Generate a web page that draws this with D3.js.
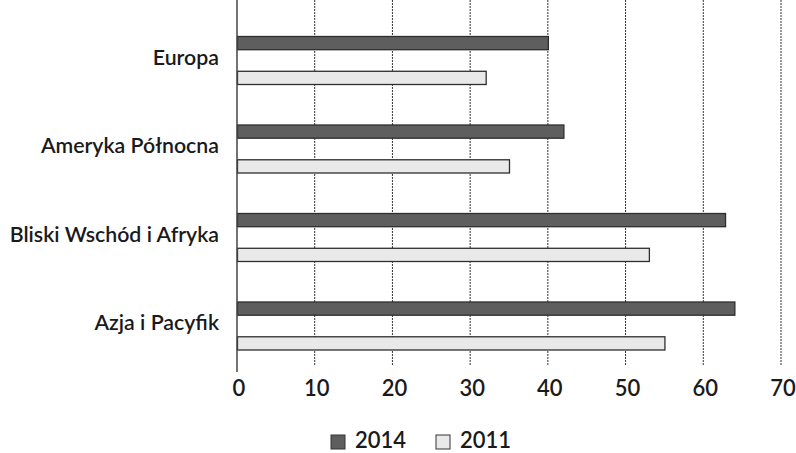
<!DOCTYPE html>
<html>
<head>
<meta charset="utf-8">
<script src="https://cdn.jsdelivr.net/npm/d3@7"></script>
<style>
  body { margin: 0; background: #fff; }
  text { font-family: Lato, "Open Sans", sans-serif; fill: #1a1a1a; font-weight: 600; }
</style>
</head>
<body>
<div id="viz"></div>
<script>
const regions = ["Europa", "Ameryka Północna", "Bliski Wschód i Afryka", "Azja i Pacyfik"]
const series = ["2014", "2011"]
const values2014 = [40, 42, 62.8, 64]
const values2011 = [32, 35, 53, 55]
const xTicks = [0, 10, 20, 30, 40, 50, 60, 70]

let w = 796;
let h = 453;

const svg = d3.select("#viz")
  .append("svg")
  .attr("width", w)
  .attr("height", h);

const xScale = d3.scaleLinear()
  .domain([0, 70])
  .range([237, 781]);

const yScale = d3.scaleBand()
  .domain(regions)
  .range([16, 370]);

// inner band for the two series
const subScale = d3.scaleBand()
  .domain(series)
  .range([20.5, 68.5])
  .paddingInner(0.62);

let colors = { "2014": "#5e5e5e", "2011": "#e9e9e9" }

let gridGroup = svg.append("g")

// dashed gridlines
gridGroup.selectAll("line")
  .data(xTicks.slice(1))
  .enter()
  .append("line")
  .attr("x1", d => xScale(d))
  .attr("x2", d => xScale(d))
  .attr("y1", 0)
  .attr("y2", 365)
  .attr("stroke", "#333")
  .attr("stroke-width", 1)
  .attr("stroke-dasharray", "2,1")

let barGroup = svg.append("g")

let barData = []
regions.forEach((r, i) => {
  barData.push({ region: r, year: "2014", value: values2014[i] })
  barData.push({ region: r, year: "2011", value: values2011[i] })
})

barGroup.selectAll("rect")
  .data(barData)
  .enter()
  .append("rect")
  .attr("x", xScale(0) + 0.5)
  .attr("y", d => yScale(d.region) + subScale(d.year))
  .attr("width", d => xScale(d.value) - xScale(0))
  .attr("height", subScale.bandwidth())
  .attr("fill", d => colors[d.year])
  .attr("stroke", "#2e2e2e")
  .attr("stroke-width", 1.3)

// y axis line
svg.append("line")
  .attr("x1", xScale(0))
  .attr("x2", xScale(0))
  .attr("y1", 0)
  .attr("y2", 372)
  .attr("stroke", "#444")
  .attr("stroke-width", 1.5)

// category labels
svg.append("g").selectAll("text")
  .data(regions)
  .enter()
  .append("text")
  .attr("x", 219)
  .attr("y", d => yScale(d) + yScale.bandwidth() / 2 - 1)
  .attr("text-anchor", "end")
  .attr("dominant-baseline", "middle")
  .style("font-size", "21.3px")
  .text(d => d)

// x tick labels
svg.append("g").selectAll("text")
  .data(xTicks)
  .enter()
  .append("text")
  .attr("x", d => xScale(d) + 2)
  .attr("y", 390)
  .attr("text-anchor", "middle")
  .attr("dominant-baseline", "middle")
  .style("font-size", "22px")
  .text(d => d)

// legend
let legend = svg.append("g")
let legendX = [331, 436]
series.forEach((s, i) => {
  legend.append("rect")
    .attr("x", legendX[i])
    .attr("y", 435)
    .attr("width", 14)
    .attr("height", 14)
    .attr("fill", colors[s])
    .attr("stroke", "#333")
    .attr("stroke-width", 1)
  legend.append("text")
    .attr("x", legendX[i] + 24)
    .attr("y", 442)
    .attr("dominant-baseline", "middle")
    .style("font-size", "22px")
    .text(s)
})
</script>
</body>
</html>
